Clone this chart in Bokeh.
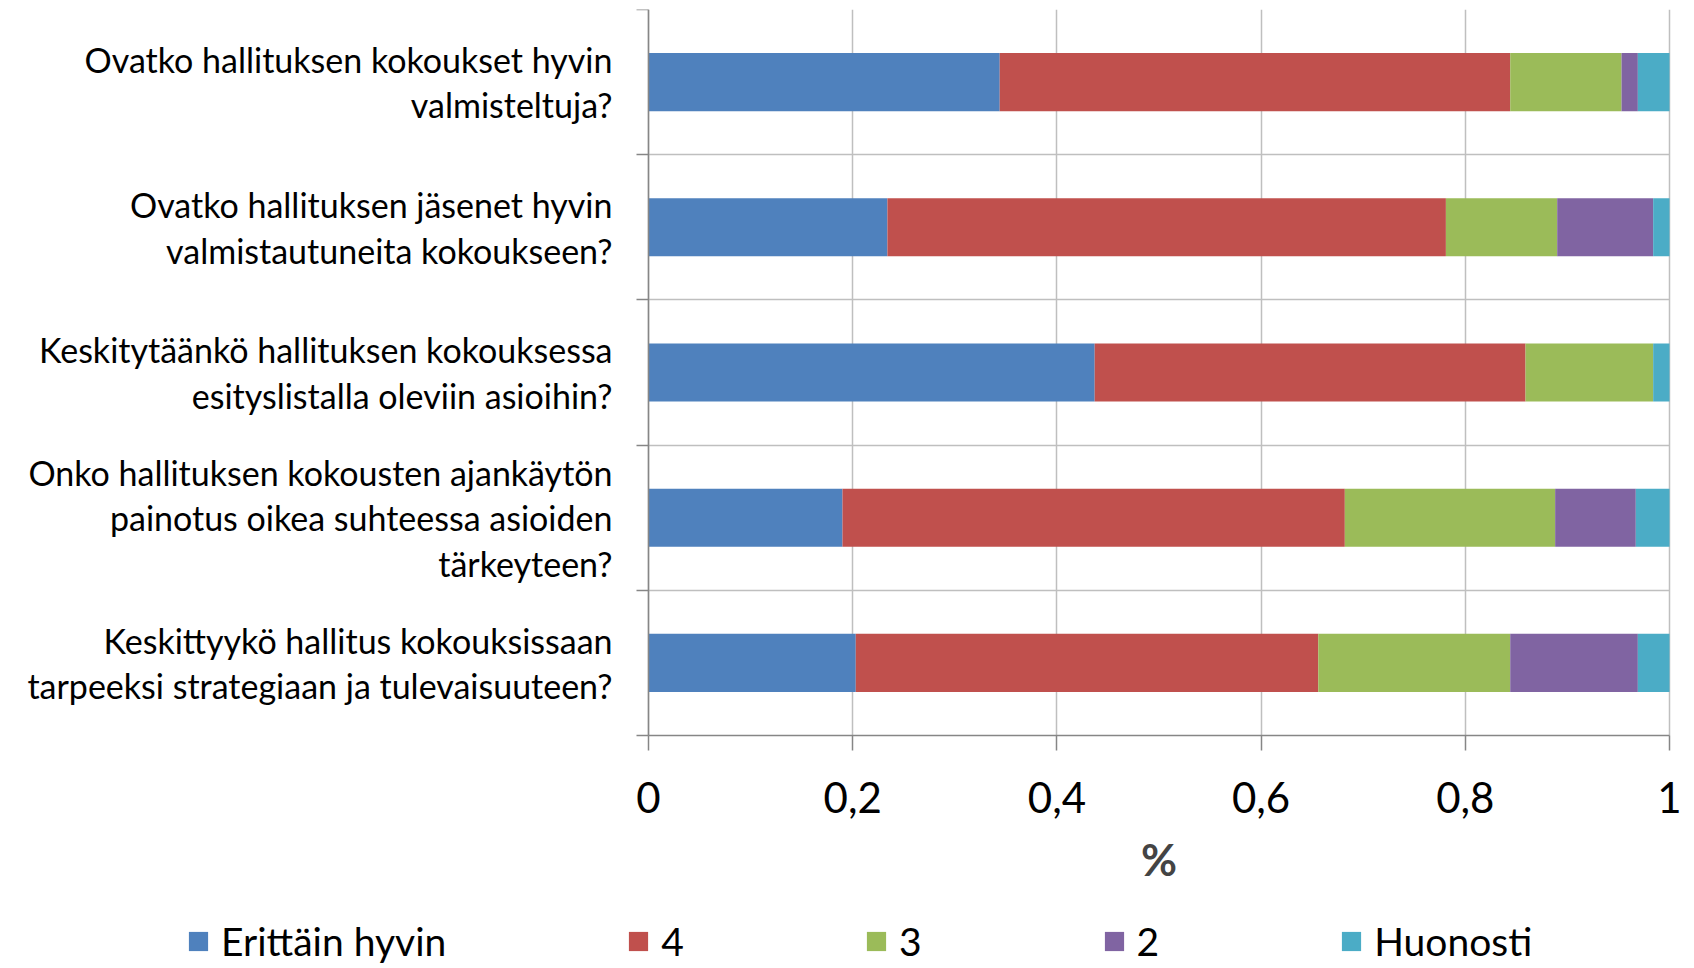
from bokeh.plotting import figure
from bokeh.models import (Range1d, FixedTicker, CustomJSTickFormatter, ColumnDataSource,
                          Legend, LegendItem, Grid)
from bokeh.embed import file_html
from bokeh.resources import INLINE

questions = [
    "Ovatko hallituksen kokoukset hyvin\nvalmisteltuja?",
    "Ovatko hallituksen jäsenet hyvin\nvalmistautuneita kokoukseen?",
    "Keskitytäänkö hallituksen kokouksessa\nesityslistalla oleviin asioihin?",
    "Onko hallituksen kokousten ajankäytön\npainotus oikea suhteessa asioiden\ntärkeyteen?",
    "Keskittyykö hallitus kokouksissaan\ntarpeeksi strategiaan ja tulevaisuuteen?",
]
series = ["Erittäin hyvin", "4", "3", "2", "Huonosti"]
erittain_hyvin = [0.344, 0.234, 0.437, 0.190, 0.203]
nelja = [0.500, 0.547, 0.422, 0.492, 0.453]
kolme = [0.109, 0.109, 0.125, 0.206, 0.188]
kaksi = [0.016, 0.094, 0.000, 0.079, 0.125]
huonosti = [0.031, 0.016, 0.016, 0.033, 0.031]
colors = ["#4F81BD", "#C0504D", "#9BBB59", "#8064A2", "#4BACC6"]
x_ticks = [0, 0.2, 0.4, 0.6, 0.8, 1.0]

positions = list(range(1, len(questions) + 1))
boundaries = [v - 0.5 for v in positions] + [positions[-1] + 0.5]
source = ColumnDataSource(dict(
    y=positions,
    **{series[0]: erittain_hyvin, series[1]: nelja, series[2]: kolme,
       series[3]: kaksi, series[4]: huonosti}
))

FONT = "Lato"
GRID = "#BFBFBF"
AXIS = "#868686"

# page layout (pixels): the frame covers the whole canvas; the bar area sits inside it
W, H = 1690, 964
TOP = 9
BAR_LEFT, BAR_RIGHT, BAR_BOTTOM = 648, 1669, 735
px_per_x = (BAR_RIGHT - BAR_LEFT) / 1.0
px_per_y = (BAR_BOTTOM - TOP) / len(questions)
x_start = -BAR_LEFT / px_per_x
x_end = 1 + (W - BAR_RIGHT) / px_per_x
y_low = boundaries[-1] + (H - BAR_BOTTOM) / px_per_y

p = figure(width=W, height=H, output_backend="svg", toolbar_location=None,
           x_range=Range1d(x_start, x_end), y_range=Range1d(y_low, boundaries[0]),
           min_border_left=0, min_border_right=0, min_border_top=TOP,
           min_border_bottom=0)
p.outline_line_color = None

renderers = p.hbar_stack(series, y="y", height=0.4, color=colors, line_color=None,
                         source=source)

# x axis
p.xaxis.fixed_location = boundaries[-1]
p.xaxis.bounds = (0, 1)
p.xaxis.ticker = FixedTicker(ticks=x_ticks)
p.xaxis.formatter = CustomJSTickFormatter(
    code="return tick.toFixed(1).replace('.', ',').replace(',0', '')")
p.xaxis.axis_label = "%"
p.xaxis.axis_label_text_font = FONT
p.xaxis.axis_label_text_font_style = "bold"
p.xaxis.axis_label_text_font_size = "44px"
p.xaxis.axis_label_standoff = 17
p.xaxis.major_label_text_font = FONT
p.xaxis.major_label_text_font_size = "42px"
p.xaxis.major_label_text_color = "black"
p.xaxis.major_label_standoff = 31
p.xaxis.major_tick_out = 15
p.xaxis.major_tick_in = 0
p.xaxis.minor_tick_out = 0
p.xaxis.minor_tick_in = 0
p.xaxis.axis_line_color = AXIS
p.xaxis.axis_line_width = 1.5
p.xaxis.major_tick_line_color = AXIS
p.xaxis.major_tick_line_width = 1.5

# y axis
p.yaxis.fixed_location = 0
p.yaxis.bounds = (boundaries[0], boundaries[-1])
p.yaxis.ticker = FixedTicker(ticks=positions, minor_ticks=boundaries)
p.yaxis.major_label_overrides = {pos: q for pos, q in zip(positions, questions)}
p.yaxis.major_label_text_font = FONT
p.yaxis.major_label_text_font_size = "34px"
p.yaxis.major_label_text_color = "black"
p.yaxis.major_label_text_line_height = 1.11
p.yaxis.major_label_standoff = 24
p.yaxis.major_tick_out = 0
p.yaxis.major_tick_in = 0
p.yaxis.minor_tick_out = 12
p.yaxis.minor_tick_in = 0
p.yaxis.minor_tick_line_color = AXIS
p.yaxis.minor_tick_line_width = 1.5
p.yaxis.axis_line_color = AXIS
p.yaxis.axis_line_width = 1.5

# grids, limited to the bar area
p.xgrid.ticker = FixedTicker(ticks=x_ticks)
p.xgrid.grid_line_color = GRID
p.xgrid.grid_line_width = 1.5
p.ygrid.ticker = FixedTicker(ticks=boundaries[:-1])
p.ygrid.grid_line_color = GRID
p.ygrid.grid_line_width = 1.5
if "cross_bounds" in Grid.properties():
    p.xgrid.bounds = (0, 1)
    p.xgrid.cross_bounds = (boundaries[0], boundaries[-1])
    p.ygrid.bounds = (boundaries[0], boundaries[-1])
    p.ygrid.cross_bounds = (0, 1)
else:
    p.xgrid.visible = False
    p.ygrid.visible = False
    p.segment(x0=x_ticks, y0=[boundaries[0]] * len(x_ticks), x1=x_ticks,
              y1=[boundaries[-1]] * len(x_ticks), line_color=GRID, line_width=1.5,
              level="underlay")
    p.segment(x0=[0] * (len(boundaries) - 1), y0=boundaries[:-1],
              x1=[1] * (len(boundaries) - 1), y1=boundaries[:-1],
              line_color=GRID, line_width=1.5, level="underlay")

# legend at the bottom of the canvas
lg = Legend(items=[LegendItem(label=s, renderers=[r]) for s, r in zip(series, renderers)],
            location=(186, 0), orientation="horizontal",
            glyph_width=24, glyph_height=24, label_standoff=11, spacing=180,
            padding=0, margin=0, border_line_color=None, background_fill_alpha=0,
            label_text_font=FONT, label_text_font_size="39px", label_text_color="black")
p.add_layout(lg, "center")

open("out.html", "w").write(file_html(p, INLINE))
